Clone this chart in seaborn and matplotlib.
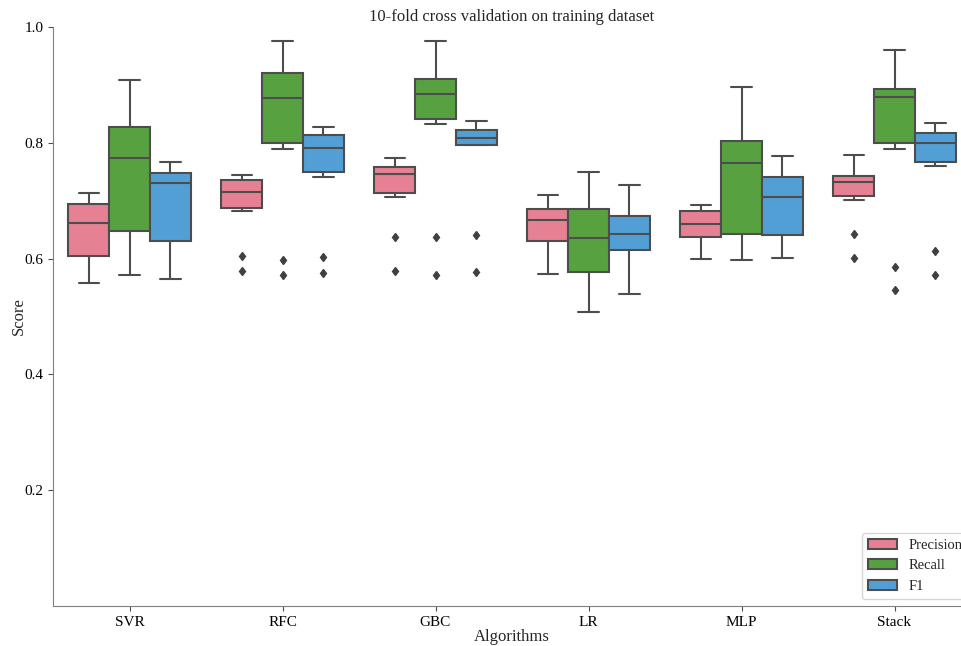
import numpy as np
import pandas as pd
import matplotlib.pyplot as plt
import seaborn as sns

# Algorithm names and metric names
algorithms = ["SVR", "RFC", "GBC", "LR", "MLP", "Stack"]
metrics = ["Precision", "Recall", "F1"]

# 10-fold scores (estimated from the figure)
svr_precision = [0.557, 0.590, 0.601, 0.613, 0.655, 0.669, 0.689, 0.697, 0.705, 0.713]
svr_recall = [0.572, 0.620, 0.640, 0.668, 0.760, 0.788, 0.815, 0.831, 0.870, 0.908]
svr_f1 = [0.564, 0.610, 0.625, 0.645, 0.725, 0.737, 0.741, 0.749, 0.758, 0.767]

rfc_precision = [0.579, 0.605, 0.683, 0.699, 0.709, 0.721, 0.733, 0.737, 0.741, 0.745]
rfc_recall = [0.572, 0.598, 0.790, 0.830, 0.868, 0.886, 0.912, 0.923, 0.945, 0.975]
rfc_f1 = [0.575, 0.602, 0.741, 0.777, 0.785, 0.797, 0.809, 0.815, 0.820, 0.828]

gbc_precision = [0.579, 0.638, 0.707, 0.731, 0.741, 0.751, 0.755, 0.760, 0.766, 0.773]
gbc_recall = [0.571, 0.637, 0.832, 0.868, 0.878, 0.890, 0.904, 0.912, 0.940, 0.975]
gbc_f1 = [0.576, 0.641, 0.796, 0.800, 0.804, 0.812, 0.819, 0.824, 0.830, 0.837]

lr_precision = [0.573, 0.612, 0.625, 0.645, 0.660, 0.674, 0.683, 0.687, 0.697, 0.710]
lr_recall = [0.507, 0.552, 0.570, 0.598, 0.625, 0.647, 0.677, 0.689, 0.715, 0.750]
lr_f1 = [0.538, 0.600, 0.610, 0.626, 0.637, 0.649, 0.668, 0.676, 0.700, 0.727]

mlp_precision = [0.600, 0.625, 0.633, 0.649, 0.655, 0.665, 0.680, 0.684, 0.688, 0.693]
mlp_recall = [0.597, 0.630, 0.638, 0.658, 0.752, 0.778, 0.795, 0.806, 0.850, 0.896]
mlp_f1 = [0.601, 0.628, 0.636, 0.656, 0.698, 0.714, 0.733, 0.743, 0.760, 0.777]

stack_precision = [0.601, 0.643, 0.701, 0.729, 0.730, 0.734, 0.740, 0.744, 0.760, 0.779]
stack_recall = [0.546, 0.585, 0.790, 0.830, 0.872, 0.886, 0.890, 0.894, 0.925, 0.961]
stack_f1 = [0.572, 0.613, 0.760, 0.784, 0.795, 0.805, 0.815, 0.818, 0.825, 0.834]

scores = {
    "SVR": [svr_precision, svr_recall, svr_f1],
    "RFC": [rfc_precision, rfc_recall, rfc_f1],
    "GBC": [gbc_precision, gbc_recall, gbc_f1],
    "LR": [lr_precision, lr_recall, lr_f1],
    "MLP": [mlp_precision, mlp_recall, mlp_f1],
    "Stack": [stack_precision, stack_recall, stack_f1],
}

# Long-format table for seaborn
rows = []
for algorithm in algorithms:
    for metric, values in zip(metrics, scores[algorithm]):
        for v in values:
            rows.append({"Algorithms": algorithm, "Metric": metric, "Score": v})
df = pd.DataFrame(rows)

sns.set_style("ticks")
plt.rcParams["font.family"] = ["Liberation Serif", "DejaVu Serif"]
plt.rcParams["axes.edgecolor"] = "0.5"
plt.rcParams["xtick.color"] = "0.3"
plt.rcParams["ytick.color"] = "0.3"
plt.rcParams["xtick.labelcolor"] = "black"
plt.rcParams["ytick.labelcolor"] = "black"

fig = plt.figure(figsize=(9.61, 6.46), dpi=100)
# axes runs slightly past the right edge, like the cropped original
ax = fig.add_axes([53 / 961, 1 - 606 / 646, 918 / 961, 579 / 646])

sns.boxplot(
    data=df,
    x="Algorithms",
    y="Score",
    hue="Metric",
    order=algorithms,
    hue_order=metrics,
    palette=sns.color_palette("husl", 3),
    saturation=0.75,
    width=0.8,
    linewidth=1.5,
    linecolor="0.3",
    flierprops=dict(marker="d", markerfacecolor="0.25", markeredgecolor="0.25", markersize=4.5),
    ax=ax,
)

ax.set_ylim(0, 1.0)
ax.set_yticks([0.2, 0.4, 0.6, 0.8, 1.0])
ax.set_title("10-fold cross validation on training dataset", fontsize=12, pad=4)
ax.set_xlabel("Algorithms", fontsize=12, labelpad=0.5)
ax.set_ylabel("Score", fontsize=12, labelpad=-2)
ax.tick_params(labelsize=11)

sns.despine(ax=ax)

ax.legend(loc="lower right", fontsize=10.5, frameon=True, bbox_to_anchor=(1.005, 0.0))

fig.savefig("out.png", dpi=100)
